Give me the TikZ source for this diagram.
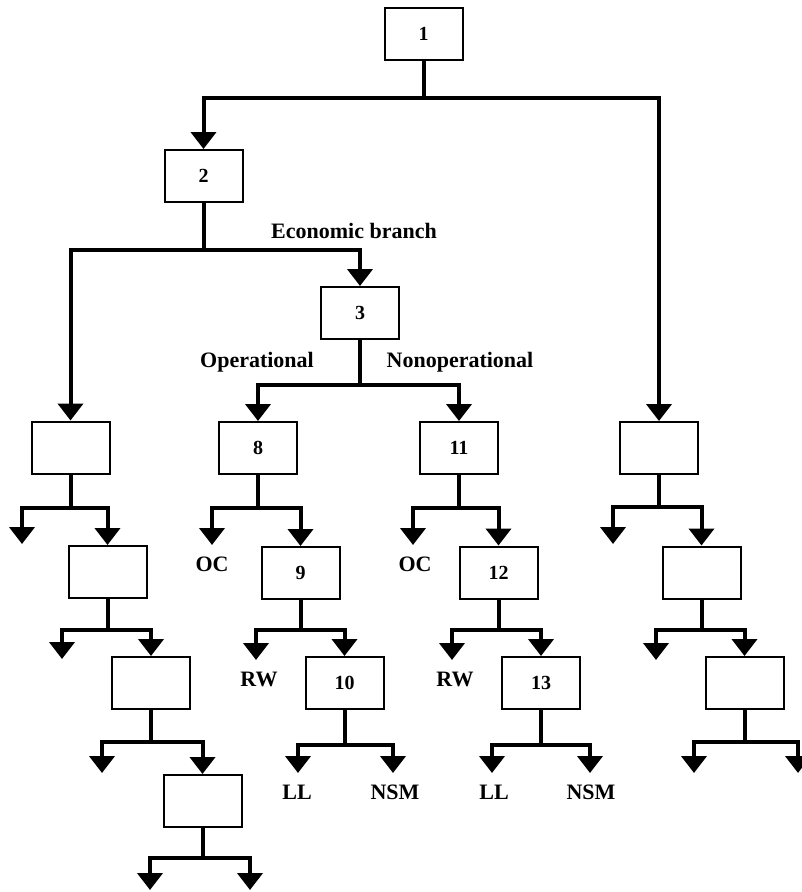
\documentclass[tikz,border=0pt]{standalone}
\usepackage{fontspec}
\setmainfont{Liberation Serif}
\usetikzlibrary{arrows.meta}
\begin{document}
\begin{tikzpicture}[x=1pt,y=-1pt,
 box/.style={draw,line width=2pt,minimum width=78pt,minimum height=52pt,inner sep=0pt,font=\fontsize{20}{24}\selectfont\bfseries},
 conn/.style={line width=4pt},
 arr/.style={line width=4pt,-{Triangle[width=25pt,length=17pt]}},
 lab/.style={font=\fontsize{22}{26}\selectfont\bfseries,inner sep=0pt}]
\useasboundingbox (0,0) rectangle (801,892);
% boxes
\node[box] (b1) at (423.5,34) {1};
\node[box] (b2) at (203.5,176) {2};
\node[box] (b3) at (360,313) {3};
\node[box] (b8) at (258,448) {8};
\node[box] (b11) at (459,448) {11};
\node[box] (L1) at (70.5,447.5) {};
\node[box] (R1) at (659,448) {};
\node[box] (b9) at (300.5,573) {9};
\node[box] (b12) at (498.5,572.5) {12};
\node[box] (L2) at (107.5,572) {};
\node[box] (R2) at (701.5,572.5) {};
\node[box] (b10) at (344.5,683) {10};
\node[box] (b13) at (541,683) {13};
\node[box] (L3) at (151,683) {};
\node[box] (R3) at (744.5,683) {};
\node[box] (L4) at (202.5,801) {};
% labels
\node[lab] (econ) at (354,231) {Economic branch};
\node[lab] (oper) at (257,362) {Operational};
\node[lab] (nonop) at (460,362) {Nonoperational};
\node[lab] (oc8) at (212,564) {OC};
\node[lab] (oc11) at (415,564) {OC};
\node[lab] (rw9) at (259,679) {RW};
\node[lab] (rw12) at (455,679) {RW};
\node[lab] (ll10) at (297,792) {LL};
\node[lab] (nsm10) at (395,792) {NSM};
\node[lab] (ll13) at (494,792) {LL};
\node[lab] (nsm13) at (591,792) {NSM};
% junctions
\coordinate (j1) at (423.5,98);
\coordinate (j2) at (203.5,250);
\coordinate (j3) at (360,385);
\coordinate (j8) at (258,508);
\coordinate (j11) at (459,508);
\coordinate (jL1) at (70.5,508);
\coordinate (jR1) at (659,507);
\coordinate (j9) at (300.5,630);
\coordinate (j12) at (498.5,630);
\coordinate (jL2) at (107.5,630);
\coordinate (jR2) at (701.5,630);
\coordinate (j10) at (344.5,745);
\coordinate (j13) at (541,745);
\coordinate (jL3) at (151,742);
\coordinate (jR3) at (744.5,742);
\coordinate (jL4) at (202.5,858);
% free ends
\coordinate (f8) at (212,545);
\coordinate (f11) at (413,545);
\coordinate (fL1) at (22,544);
\coordinate (fR1) at (613,544);
\coordinate (f9) at (256,660);
\coordinate (f12) at (452,660);
\coordinate (fL2) at (62,659);
\coordinate (fR2) at (656,660);
\coordinate (f10a) at (298,773);
\coordinate (f10b) at (393,773);
\coordinate (f13a) at (492,773);
\coordinate (f13b) at (590,773);
\coordinate (fL3) at (102,773);
\coordinate (fR3a) at (694,773);
\coordinate (fR3b) at (798,773);
\coordinate (fL4a) at (150,890);
\coordinate (fL4b) at (250,890);
% connectors
\draw[conn] (b1.south) -- (j1);
\draw[arr] (j1) -| (b2.north);
\draw[arr] (j1) -| (R1.north);
\draw[conn] (b2.south) -- (j2);
\draw[arr] (j2) -| (L1.north);
\draw[arr] (j2) -| (b3.north);
\draw[conn] (b3.south) -- (j3);
\draw[arr] (j3) -| (b8.north);
\draw[arr] (j3) -| (b11.north);
\draw[conn] (b8.south) -- (j8);
\draw[arr] (j8) -| (f8);
\draw[arr] (j8) -| (b9.north);
\draw[conn] (b11.south) -- (j11);
\draw[arr] (j11) -| (f11);
\draw[arr] (j11) -| (b12.north);
\draw[conn] (L1.south) -- (jL1);
\draw[arr] (jL1) -| (fL1);
\draw[arr] (jL1) -| (L2.north);
\draw[conn] (R1.south) -- (jR1);
\draw[arr] (jR1) -| (fR1);
\draw[arr] (jR1) -| (R2.north);
\draw[conn] (b9.south) -- (j9);
\draw[arr] (j9) -| (f9);
\draw[arr] (j9) -| (b10.north);
\draw[conn] (b12.south) -- (j12);
\draw[arr] (j12) -| (f12);
\draw[arr] (j12) -| (b13.north);
\draw[conn] (L2.south) -- (jL2);
\draw[arr] (jL2) -| (fL2);
\draw[arr] (jL2) -| (L3.north);
\draw[conn] (R2.south) -- (jR2);
\draw[arr] (jR2) -| (fR2);
\draw[arr] (jR2) -| (R3.north);
\draw[conn] (b10.south) -- (j10);
\draw[arr] (j10) -| (f10a);
\draw[arr] (j10) -| (f10b);
\draw[conn] (b13.south) -- (j13);
\draw[arr] (j13) -| (f13a);
\draw[arr] (j13) -| (f13b);
\draw[conn] (L3.south) -- (jL3);
\draw[arr] (jL3) -| (fL3);
\draw[arr] (jL3) -| (L4.north);
\draw[conn] (R3.south) -- (jR3);
\draw[arr] (jR3) -| (fR3a);
\draw[arr] (jR3) -| (fR3b);
\draw[conn] (L4.south) -- (jL4);
\draw[arr] (jL4) -| (fL4a);
\draw[arr] (jL4) -| (fL4b);
\end{tikzpicture}
\end{document}
